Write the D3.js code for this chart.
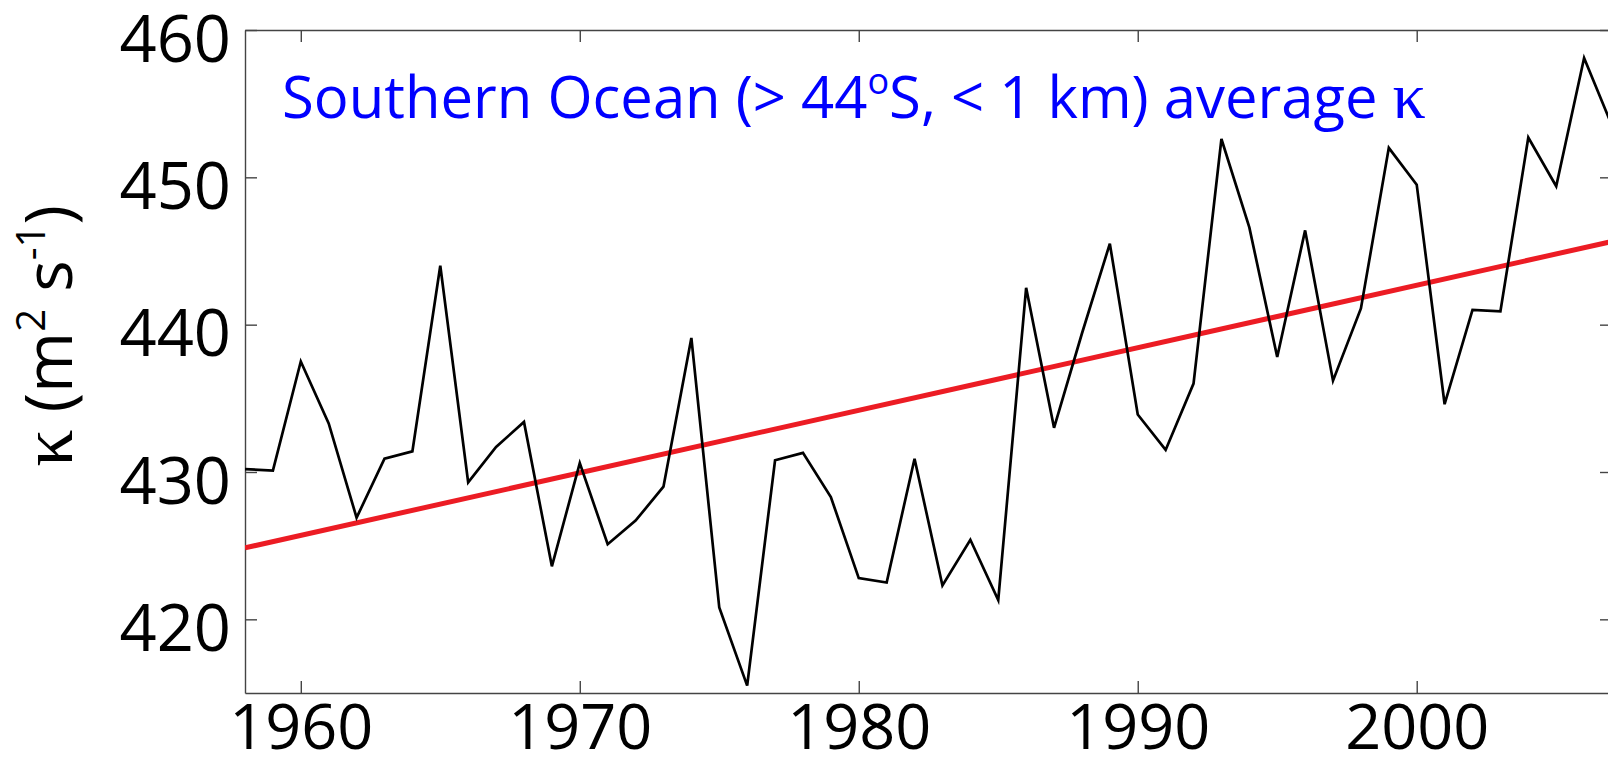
<!DOCTYPE html>
<html>
<head>
<meta charset="utf-8">
<script src="https://cdn.jsdelivr.net/npm/d3@7"></script>
<style>
  html, body { margin: 0; padding: 0; background: #fff; }
  svg { display: block; }
</style>
</head>
<body>
<svg id="chart" width="1608" height="766"></svg>
<script>
// ---- data ----
const years = [1958, 1959, 1960, 1961, 1962, 1963, 1964, 1965, 1966, 1967,
               1968, 1969, 1970, 1971, 1972, 1973, 1974, 1975, 1976, 1977,
               1978, 1979, 1980, 1981, 1982, 1983, 1984, 1985, 1986, 1987,
               1988, 1989, 1990, 1991, 1992, 1993, 1994, 1995, 1996, 1997,
               1998, 1999, 2000, 2001, 2002, 2003, 2004, 2005, 2006, 2007];
const kappa = [430.2, 430.1, 437.5, 433.3, 426.9, 430.9, 431.4, 444.0, 429.3, 431.7,
               433.4, 423.6, 430.6, 425.1, 426.7, 429.0, 439.1, 420.8, 415.5, 430.8,
               431.3, 428.3, 422.8, 422.5, 430.9, 422.3, 425.4, 421.3, 442.5, 433.0,
               439.4, 445.5, 433.9, 431.5, 436.0, 452.6, 446.6, 437.8, 446.4, 436.2,
               441.1, 452.0, 449.5, 434.6, 441.0, 440.9, 452.7, 449.4, 458.1, 453.5];
const trendYears = [1958, 2007];
const trendValues = [424.85, 445.65];
const xTickValues = [1960, 1970, 1980, 1990, 2000];
const yTickValues = [420, 430, 440, 450, 460];
const titleParts = ["Southern Ocean (> 44", "o", "S, < 1 km) average ", "κ"];

// ---- layout ----
const W = 1608, H = 766;
const mLeft = 245, mRight = 1612, mTop = 30, mBottom = 693;
const svg = d3.select("#chart");
svg.append("rect").attr("width", W).attr("height", H).attr("fill", "#fff");

const x = d3.scaleLinear().domain([1958, 2007]).range([mLeft, mRight]);
const y = d3.scaleLinear().domain([415, 460]).range([mBottom, mTop]);

const FONT = "'Open Sans', 'Noto Sans', sans-serif";
const SERIF = "'Liberation Serif', 'DejaVu Serif', serif";
const axisColor = "#444";

svg.append("defs").append("clipPath").attr("id", "plotclip")
  .append("rect").attr("x", mLeft).attr("y", mTop)
  .attr("width", mRight - mLeft).attr("height", mBottom - mTop);

// ---- axes ----
const gB = svg.append("g").attr("transform", `translate(0,${mBottom})`)
  .call(d3.axisBottom(x).tickValues(xTickValues).tickSizeInner(-12).tickSizeOuter(0).tickFormat(d3.format("d")));
const gT = svg.append("g").attr("transform", `translate(0,${mTop})`)
  .call(d3.axisTop(x).tickValues(xTickValues).tickSizeInner(-12).tickSizeOuter(0).tickFormat(""));
const gL = svg.append("g").attr("transform", `translate(${mLeft},0)`)
  .call(d3.axisLeft(y).tickValues(yTickValues).tickSizeInner(-12).tickSizeOuter(0).tickFormat(d3.format("d")));
const gR = svg.append("g").attr("transform", `translate(${mRight},0)`)
  .call(d3.axisRight(y).tickValues(yTickValues).tickSizeInner(-12).tickSizeOuter(0).tickFormat(""));

[gB, gT, gL, gR].forEach(g => {
  g.selectAll("path.domain").attr("stroke", axisColor).attr("stroke-width", 1.4);
  g.selectAll(".tick line").attr("stroke", axisColor).attr("stroke-width", 1.4);
  g.selectAll("text").attr("fill", "#000").style("font-family", FONT).style("font-size", "65px");
});
gB.selectAll("text").attr("y", 56).attr("dy", 0).style("font-size", "63px");
gL.selectAll("text").attr("x", -14).attr("dy", 31).attr("text-anchor", "end");

// ---- data lines ----
const plot = svg.append("g").attr("clip-path", "url(#plotclip)");
const line = d3.line().x(d => x(d[0])).y(d => y(d[1]));

plot.append("path")
  .datum(trendYears.map((t, i) => [t, trendValues[i]]))
  .attr("d", line).attr("fill", "none")
  .attr("stroke", "#ec1c24").attr("stroke-width", 5);

plot.append("path")
  .datum(years.map((t, i) => [t, kappa[i]]))
  .attr("d", line).attr("fill", "none")
  .attr("stroke", "#000").attr("stroke-width", 2.7).attr("stroke-linejoin", "miter");

// ---- title ----
const title = svg.append("text").attr("x", 282).attr("y", 118)
  .attr("fill", "#0000ff").style("font-family", FONT).style("font-size", "58px");
title.append("tspan").text(titleParts[0]);
title.append("tspan").attr("baseline-shift", "super").style("font-size", "36px").text(titleParts[1]);
title.append("tspan").text(titleParts[2]);
title.append("tspan").style("font-family", SERIF).style("font-size", "66px").text(titleParts[3]);

// ---- y label ----
const yl = svg.append("text").attr("transform", "translate(72,336) rotate(-90)")
  .attr("text-anchor", "middle").attr("fill", "#000")
  .style("font-family", FONT).style("font-size", "66px");
yl.append("tspan").style("font-family", SERIF).style("font-size", "74px").text("κ");
yl.append("tspan").text(" (m");
yl.append("tspan").attr("baseline-shift", "super").style("font-size", "40px").text("2");
yl.append("tspan").text(" s");
yl.append("tspan").attr("baseline-shift", "super").style("font-size", "40px").text("-1");
yl.append("tspan").text(")");
</script>
</body>
</html>
